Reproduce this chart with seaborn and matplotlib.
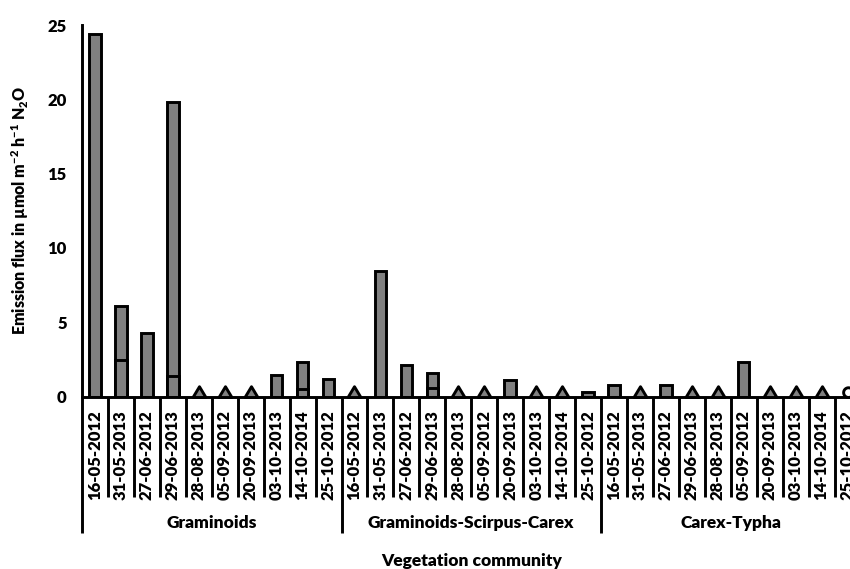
import numpy as np
import pandas as pd
import matplotlib
matplotlib.use("Agg")
import matplotlib.pyplot as plt
import seaborn as sns
from matplotlib.path import Path
from matplotlib.transforms import blended_transform_factory

nan = np.nan

groups = ["Graminoids", "Graminoids-Scirpus-Carex", "Carex-Typha"]
dates = ["16-05-2012", "31-05-2013", "27-06-2012", "29-06-2013", "28-08-2013",
         "05-09-2012", "20-09-2013", "03-10-2013", "14-10-2014", "25-10-2012"]

# Mean N2O flux per sampling date (NaN where no bar is drawn)
flux_graminoids = [24.4, 6.1, 4.3, 19.8, nan, nan, nan, 1.45, 2.3, 1.2]
flux_gsc = [nan, 8.45, 2.1, 1.6, nan, nan, 1.1, nan, nan, 0.3]
flux_carex_typha = [0.75, nan, 0.8, nan, nan, 2.3, nan, nan, nan, nan]

# Lower segment of the split bars
part_graminoids = [nan, 2.45, nan, 1.4, nan, nan, nan, nan, 0.5, nan]
part_gsc = [nan, nan, nan, 0.6, nan, nan, nan, nan, nan, nan]
part_carex_typha = [nan] * 10

# Sample status: "bdl" = below detection limit, "nd" = not determined
status_graminoids = ["", "", "", "", "bdl", "bdl", "bdl", "", "", ""]
status_gsc = ["bdl", "", "", "", "bdl", "bdl", "", "bdl", "bdl", ""]
status_carex_typha = ["", "bdl", "", "bdl", "bdl", "", "bdl", "bdl", "bdl", "nd"]

flux = [flux_graminoids, flux_gsc, flux_carex_typha]
parts = [part_graminoids, part_gsc, part_carex_typha]
status = [status_graminoids, status_gsc, status_carex_typha]

rows = []
for g, fl, pt, st in zip(groups, flux, parts, status):
    for d, f, p, s in zip(dates, fl, pt, st):
        rows.append({"group": g, "date": d, "key": f"{g}|{d}",
                     "flux": f, "part": p, "status": s, "floor": 0.0})
df = pd.DataFrame(rows)
order = list(df["key"])

WEIGHT = "heavy"
LW = 2.1
sns.set_theme(style="white")
plt.rcParams["font.family"] = ["Lato", "DejaVu Sans"]
plt.rcParams["font.weight"] = WEIGHT
plt.rcParams["mathtext.fontset"] = "custom"
plt.rcParams["mathtext.bf"] = "Lato:heavy"
plt.rcParams["mathtext.rm"] = "Lato:heavy"

fig = plt.figure(figsize=(8.5, 5.69), dpi=100)
W, H = 850, 569
x0, x1, y0, y1 = 82, 860.5, 396.5, 25
ax = fig.add_axes([x0 / W, 1 - y0 / H, (x1 - x0) / W, (y0 - y1) / H])

bar_kw = dict(order=order, color="#808080", saturation=1, edgecolor="black",
              linewidth=LW, width=0.44, errorbar=None, ax=ax)
sns.barplot(data=df.dropna(subset=["flux"]), x="key", y="flux", **bar_kw)
sns.barplot(data=df.dropna(subset=["part"]), x="key", y="part", **bar_kw)

# Markers sitting on the zero line
tri = Path([(-0.6, 0), (0.6, 0), (0, 1), (-0.6, 0)], closed=True)
t = np.linspace(0, 2 * np.pi, 60)
circ = Path(np.column_stack([np.cos(t), 1 + np.sin(t)]), closed=True)

sns.stripplot(data=df[df["status"] == "bdl"], x="key", y="floor", order=order,
              jitter=False, marker=tri, size=15.5, color="#808080",
              edgecolor="black", linewidth=LW, ax=ax, clip_on=False, zorder=3)
sns.stripplot(data=df[df["status"] == "nd"], x="key", y="floor", order=order,
              jitter=False, marker=circ, size=14, color="white",
              edgecolor="black", linewidth=LW, ax=ax, clip_on=False, zorder=3)

n = len(order)
ax.set_xlim(-0.5, n - 0.5)
ax.set_ylim(0, 25)
ax.set_yticks([0, 5, 10, 15, 20, 25])
ax.tick_params(axis="y", direction="out", length=5, width=LW, labelsize=12,
               colors="black", pad=6)
ax.set_xticks(range(n))
ax.set_xticklabels(list(df["date"]), rotation=90, fontsize=12, fontweight=WEIGHT)
ax.tick_params(axis="x", length=0, pad=10, colors="black")
for lab in ax.get_yticklabels():
    lab.set_fontweight(WEIGHT)

for side in ["top", "right"]:
    ax.spines[side].set_visible(False)
for side in ["left", "bottom"]:
    ax.spines[side].set_linewidth(LW)
    ax.spines[side].set_color("black")

# Category separators below the axis
trans = blended_transform_factory(ax.transData, ax.transAxes)
short_end = (y0 - 497) / (y0 - y1)
long_end = (y0 - 533) / (y0 - y1)
ng = len(dates)
for i in range(n + 1):
    xb = i - 0.5
    end = long_end if i % ng == 0 else short_end
    ax.plot([xb, xb], [0, end], color="black", lw=LW, transform=trans,
            clip_on=False, solid_capstyle="butt")

# Group labels
ty = (y0 - 523) / (y0 - y1)
for gi, g in enumerate(groups):
    xc = gi * ng + (ng - 1) / 2
    ax.text(xc, ty, g, transform=trans, ha="center", va="center",
            fontsize=12.5, fontweight=WEIGHT, color="black")

ax.set_xlabel("Vegetation community", fontsize=12.5, fontweight=WEIGHT,
              color="black", va="center")
ax.xaxis.set_label_coords(0.5, (y0 - 561) / (y0 - y1))
ax.set_ylabel(r"Emission flux in µmol m$^{\mathbf{-2}}$ h$^{\mathbf{-1}}$ N$_{\mathbf{2}}$O",
              fontsize=11.5, fontweight=WEIGHT, color="black", va="center")
ax.yaxis.set_label_coords((20 - x0) / (x1 - x0), 0.5)

fig.savefig("out.png", dpi=100)
